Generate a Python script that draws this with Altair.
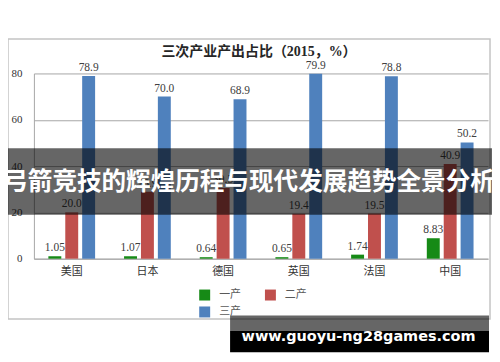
import altair as alt
import pandas as pd

countries = ["美国", "日本", "德国", "英国", "法国", "中国"]
series = ["一产", "二产", "三产"]
primary = [1.05, 1.07, 0.64, 0.65, 1.74, 8.83]
secondary = [20.0, 28.9, 30.5, 19.4, 19.5, 40.9]
tertiary = [78.9, 70.0, 68.9, 79.9, 78.8, 50.2]
colors = ["#168a16", "#c0504d", "#4f81bd"]
y_ticks = [0, 20, 40, 60, 80]
title_text = "三次产业产出占比（2015，%）"
banner_text = "弓箭竞技的辉煌历程与现代发展趋势全景分析"
watermark_text = "www.guoyu-ng28games.com"

rows = []
for i, c in enumerate(countries):
    for s, vals, fmt in zip(series, [primary, secondary, tertiary], ["{:.2f}", "{:.1f}", "{:.1f}"]):
        rows.append({"country": c, "series": s, "value": vals[i], "label": fmt.format(vals[i])})
df = pd.DataFrame(rows)
one = pd.DataFrame({"k": [0]})

W, H = 456, 186
SERIF = "Liberation Serif, Noto Sans CJK SC"
CJK = "Noto Sans CJK SC"

x_enc = alt.X(
    "country:N", sort=countries,
    scale=alt.Scale(paddingInner=0.33, paddingOuter=0.165),
    axis=alt.Axis(title=None, labelAngle=0, labelFont=CJK, labelFontSize=11,
                  labelColor="#333333", labelPadding=7, ticks=False,
                  domainColor="#a6a6a6", domainWidth=1),
)
xo = alt.XOffset("series:N", sort=series,
                 scale=alt.Scale(paddingInner=0.235, paddingOuter=0.1175))
y_enc = alt.Y(
    "value:Q", scale=alt.Scale(domain=[0, 80], nice=False),
    axis=alt.Axis(title=None, values=y_ticks, labelFont=SERIF, labelFontSize=11,
                  labelColor="#333333", labelPadding=12, ticks=False,
                  domainColor="#a6a6a6", gridColor="#a6a6a6", gridWidth=1),
)

border = alt.Chart(one).mark_rect(filled=False, stroke="#c4c4c4", strokeWidth=1.5).encode(
    x=alt.value(-26), x2=alt.value(458), y=alt.value(-34.5), y2=alt.value(246.5)
)

bars = alt.Chart(df).mark_bar().encode(
    x=x_enc, xOffset=xo, y=y_enc,
    color=alt.Color(
        "series:N", sort=series, scale=alt.Scale(domain=series, range=colors),
        legend=alt.Legend(title=None, orient="none", legendX=166, legendY=217,
                          direction="horizontal", columns=2,
                          symbolType="square", symbolSize=121,
                          symbolStrokeWidth=0, labelFont=CJK, labelFontSize=11,
                          labelColor="#595959", labelOffset=9, columnPadding=24,
                          rowPadding=5, padding=0),
    ),
)

labels = alt.Chart(df).mark_text(
    baseline="alphabetic", dy=-5, font=SERIF, fontSize=11.5, color="#404040"
).encode(x=x_enc, xOffset=xo, y=y_enc, text="label:N")

title = alt.Chart(one).mark_text(
    text=title_text, font=SERIF, fontSize=14, fontWeight="bold", color="#262626",
    baseline="middle", align="center"
).encode(x=alt.value(226), y=alt.value(-22))

band = alt.Chart(one).mark_rect(color="black", opacity=0.6).encode(
    x=alt.value(-40), x2=alt.value(470), y=alt.value(75), y2=alt.value(142)
)
banner = alt.Chart(one).mark_text(
    text=banner_text, font=CJK, fontSize=24.7, fontWeight="bold", color="white",
    baseline="middle", align="center"
).encode(x=alt.value(216), y=alt.value(110))

wm_gray = alt.Chart(one).mark_rect(color="black", opacity=0.6).encode(
    x=alt.value(197), x2=alt.value(457), y=alt.value(243), y2=alt.value(258.7)
)
wm_black = alt.Chart(one).mark_rect(color="black", opacity=1).encode(
    x=alt.value(197), x2=alt.value(457), y=alt.value(258.7), y2=alt.value(280)
)
wm_text = alt.Chart(one).mark_text(
    text=watermark_text, font="DejaVu Sans", fontSize=14.5, fontWeight="bold",
    color="white", baseline="alphabetic", align="center"
).encode(x=alt.value(326), y=alt.value(268.7))

chart = alt.layer(
    border, bars, labels, title, band, banner, wm_gray, wm_black, wm_text
).properties(
    width=W, height=H,
    padding={"left": 26, "top": 65, "right": 4, "bottom": 97},
    autosize=alt.AutoSizeParams(type="none"),
).configure_view(stroke=None)

chart.save("out.html", embed_options={"renderer": "svg", "actions": False})
